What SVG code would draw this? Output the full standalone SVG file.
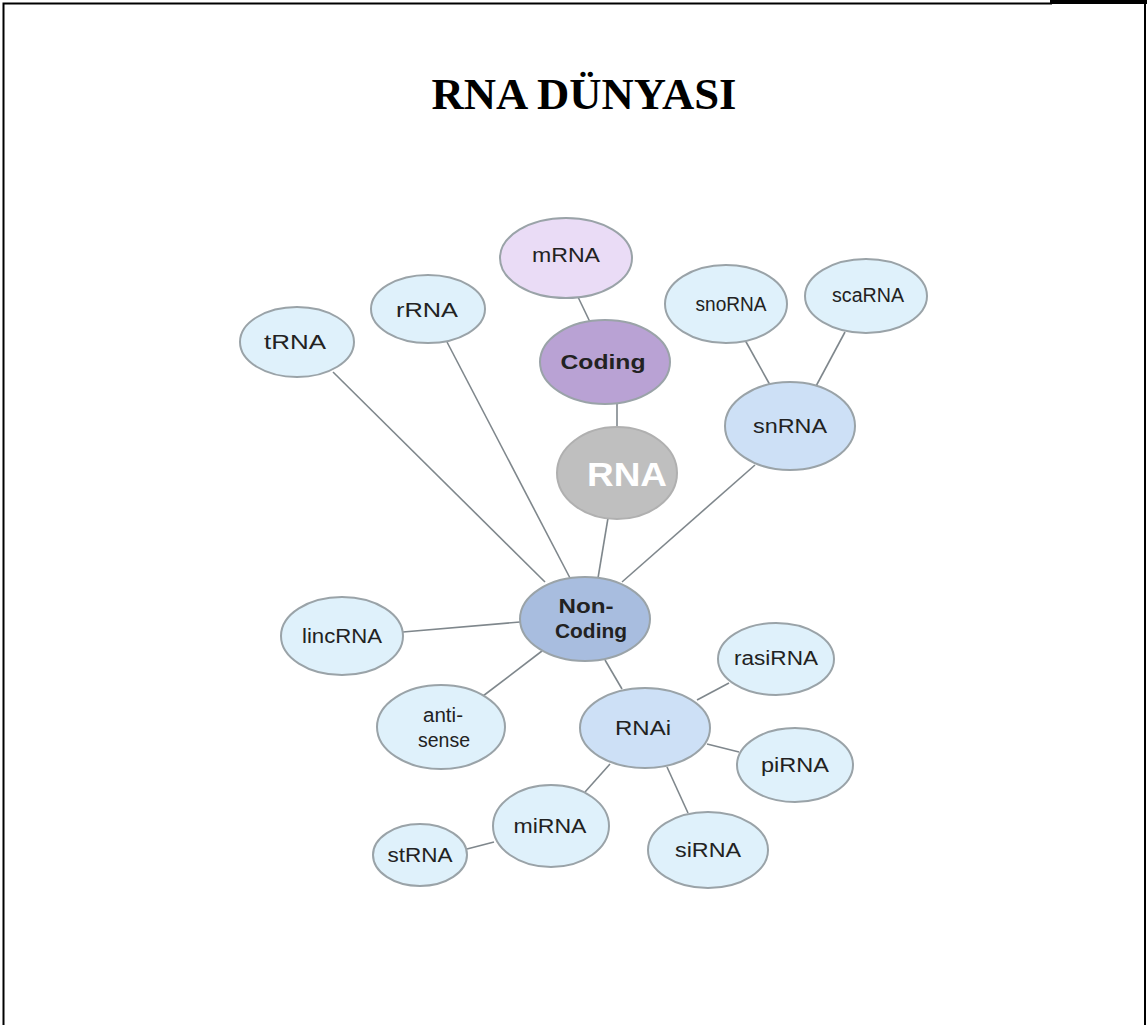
<svg xmlns="http://www.w3.org/2000/svg" width="1147" height="1025" viewBox="0 0 1147 1025">
<style>
.n{fill:#dff1fb;stroke:#9aa3a8;stroke-width:2}
.t{font-family:"Liberation Sans",Arial,sans-serif;font-size:20px;fill:#222;text-anchor:middle}
.b{font-weight:bold}
.c line{stroke:#7f878c;stroke-width:1.6}
</style>
<rect width="1147" height="1025" fill="#fff"/>
<g id="border" fill="none" stroke="#000">
<path d="M3.5 1025 V3.5 H1052" stroke-width="2"/>
<path d="M1050 2 H1147" stroke-width="4"/>
<path d="M1145 2 V1025" stroke-width="2"/>
</g>
<text x="584" y="109" font-family="'Liberation Serif','Times New Roman',serif" font-weight="bold" font-size="44" text-anchor="middle" fill="#000" textLength="305" lengthAdjust="spacingAndGlyphs">RNA DÜNYASI</text>
<g id="connectors" class="c">
<line x1="578" y1="297" x2="590" y2="322"/>
<line x1="617" y1="403" x2="617" y2="428"/>
<line x1="608" y1="518" x2="598" y2="578"/>
<line x1="333" y1="372" x2="545" y2="582"/>
<line x1="447" y1="342" x2="570" y2="578"/>
<line x1="755" y1="465" x2="622" y2="582"/>
<line x1="745" y1="340" x2="770" y2="385"/>
<line x1="845" y1="332" x2="815" y2="388"/>
<line x1="403" y1="632" x2="520" y2="622"/>
<line x1="483" y1="696" x2="542" y2="651"/>
<line x1="605" y1="660" x2="622" y2="689"/>
<line x1="697" y1="700" x2="729" y2="683"/>
<line x1="707" y1="744" x2="739" y2="752"/>
<line x1="610" y1="764" x2="585" y2="792"/>
<line x1="667" y1="767" x2="688" y2="813"/>
<line x1="494" y1="842" x2="467" y2="849"/>
</g>
<g id="mRNA"><ellipse cx="566" cy="258" rx="66" ry="40" class="n" style="fill:#eadcf6"/><text x="566" y="262" class="t" textLength="68" lengthAdjust="spacingAndGlyphs">mRNA</text></g>
<g id="rRNA"><ellipse cx="428" cy="309" rx="57" ry="34" class="n"/><text x="427" y="317" class="t" textLength="62" lengthAdjust="spacingAndGlyphs">rRNA</text></g>
<g id="tRNA"><ellipse cx="297" cy="342" rx="57" ry="35" class="n"/><text x="295" y="349" class="t" textLength="62" lengthAdjust="spacingAndGlyphs">tRNA</text></g>
<g id="Coding"><ellipse cx="605" cy="362" rx="65" ry="42" class="n" style="fill:#b9a2d4"/><text x="603" y="369" class="t b" style="font-size:21px" textLength="85" lengthAdjust="spacingAndGlyphs">Coding</text></g>
<g id="RNA"><ellipse cx="617" cy="473" rx="60" ry="46" class="n" style="fill:#bfbfbf;stroke:#b0b0b0"/><text x="627" y="486" class="t b" style="font-size:34px;fill:#fff" textLength="80" lengthAdjust="spacingAndGlyphs">RNA</text></g>
<g id="snoRNA"><ellipse cx="726" cy="304" rx="61" ry="39" class="n"/><text x="731" y="311" class="t" textLength="71" lengthAdjust="spacingAndGlyphs">snoRNA</text></g>
<g id="scaRNA"><ellipse cx="866" cy="296" rx="61" ry="37" class="n"/><text x="868" y="302" class="t" textLength="72" lengthAdjust="spacingAndGlyphs">scaRNA</text></g>
<g id="snRNA"><ellipse cx="790" cy="426" rx="65" ry="44" class="n" style="fill:#cde0f6"/><text x="790" y="433" class="t" textLength="74" lengthAdjust="spacingAndGlyphs">snRNA</text></g>
<g id="NonCoding"><ellipse cx="585" cy="619" rx="65" ry="42" class="n" style="fill:#a8bddf"/><text x="586" y="613" class="t b" textLength="55" lengthAdjust="spacingAndGlyphs">Non-</text><text x="591" y="638" class="t b" textLength="72" lengthAdjust="spacingAndGlyphs">Coding</text></g>
<g id="lincRNA"><ellipse cx="342" cy="636" rx="61" ry="39" class="n"/><text x="342" y="643" class="t" textLength="80" lengthAdjust="spacingAndGlyphs">lincRNA</text></g>
<g id="antisense"><ellipse cx="441" cy="727" rx="64" ry="42" class="n"/><text x="443" y="722" class="t" textLength="40" lengthAdjust="spacingAndGlyphs">anti-</text><text x="444" y="747" class="t" textLength="52" lengthAdjust="spacingAndGlyphs">sense</text></g>
<g id="RNAi"><ellipse cx="645" cy="728" rx="65" ry="40" class="n" style="fill:#cde0f6"/><text x="643" y="735" class="t" textLength="56" lengthAdjust="spacingAndGlyphs">RNAi</text></g>
<g id="rasiRNA"><ellipse cx="776" cy="659" rx="58" ry="36" class="n"/><text x="776" y="665" class="t" textLength="84" lengthAdjust="spacingAndGlyphs">rasiRNA</text></g>
<g id="piRNA"><ellipse cx="795" cy="765" rx="58" ry="37" class="n"/><text x="795" y="772" class="t" textLength="68" lengthAdjust="spacingAndGlyphs">piRNA</text></g>
<g id="siRNA"><ellipse cx="708" cy="850" rx="60" ry="38" class="n"/><text x="708" y="857" class="t" textLength="66" lengthAdjust="spacingAndGlyphs">siRNA</text></g>
<g id="miRNA"><ellipse cx="551" cy="826" rx="58" ry="41" class="n"/><text x="550" y="833" class="t" textLength="73" lengthAdjust="spacingAndGlyphs">miRNA</text></g>
<g id="stRNA"><ellipse cx="420" cy="855" rx="47" ry="31" class="n"/><text x="420" y="862" class="t" textLength="65" lengthAdjust="spacingAndGlyphs">stRNA</text></g>
</svg>
